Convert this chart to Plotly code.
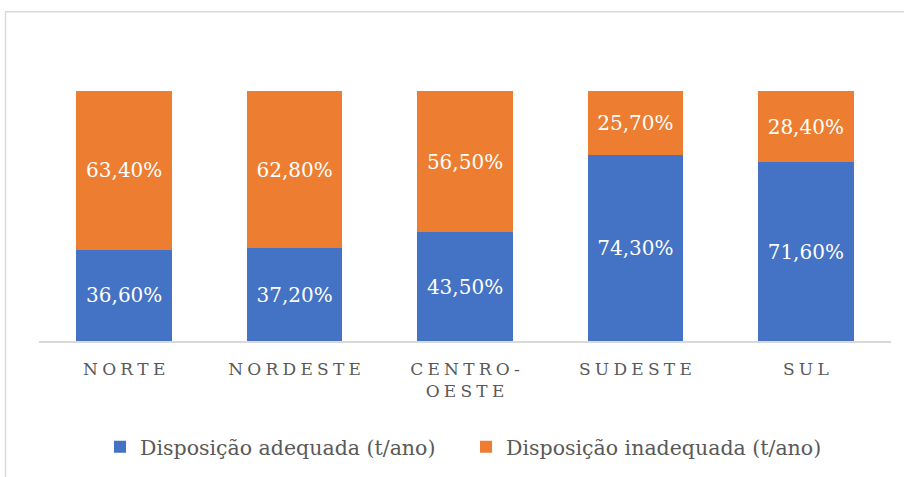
import plotly.graph_objects as go

categories = ["NORTE", "NORDESTE", "CENTRO-<br>OESTE", "SUDESTE", "SUL"]
adequada = [36.6, 37.2, 43.5, 74.3, 71.6]
inadequada = [63.4, 62.8, 56.5, 25.7, 28.4]
series_names = ["Disposição adequada (t/ano)", "Disposição inadequada (t/ano)"]
colors = ["#4472C4", "#ED7D31"]

SP = "\u2005"
def spaced(label):
    return "<br>".join(SP.join(list(part)) for part in label.split("<br>"))

tick_text = [spaced(c) for c in categories]

def fmt(v):
    return f"{v:.2f}%".replace(".", ",")

FONT = "DejaVu Serif"

fig = go.Figure()
for name, vals, col in zip(series_names, [adequada, inadequada], colors):
    fig.add_trace(go.Bar(
        x=list(range(len(categories))), y=vals, name=name,
        marker=dict(color=col, line=dict(width=0)),
        text=[fmt(v) for v in vals], textposition="inside",
        insidetextanchor="middle",
        textfont=dict(color="white", size=20, family=FONT),
        width=0.56,
    ))

fig.update_layout(
    barmode="stack",
    width=904, height=477,
    margin=dict(l=39, r=13, t=91, b=135),
    paper_bgcolor="white", plot_bgcolor="white",
    showlegend=True,
    legend=dict(orientation="h", x=(100 - 39) / 852, xanchor="left", y=-0.338, yanchor="top",
                font=dict(family=FONT, size=20.5, color="#595959"),
                entrywidth=321, entrywidthmode="pixels",
                itemsizing="constant", traceorder="normal"),
    font=dict(family=FONT, color="#595959"),
)
fig.update_xaxes(
    tickmode="array", tickvals=list(range(len(categories))), ticktext=tick_text,
    range=[-0.5, 4.5], showline=True, linecolor="#d9d9d9", linewidth=1.5,
    ticks="", ticklabelstandoff=12,
    tickfont=dict(family=FONT, size=17, color="#595959"),
    showgrid=False, zeroline=False,
)
fig.update_yaxes(range=[0, 100], showticklabels=False, showgrid=False, zeroline=False,
                 showline=False)

# chart frame
fig.add_shape(type="rect", xref="paper", yref="paper",
              x0=(5.5 - 39) / 852, x1=(920 - 39) / 852,
              y0=(342 - 520) / 251, y1=(342 - 11.5) / 251,
              line=dict(color="#d9d9d9", width=1.5), fillcolor="rgba(0,0,0,0)", layer="below")

fig.write_html("out.html", config={"displayModeBar": False},
               post_script="document.body.style.margin='0px';")
